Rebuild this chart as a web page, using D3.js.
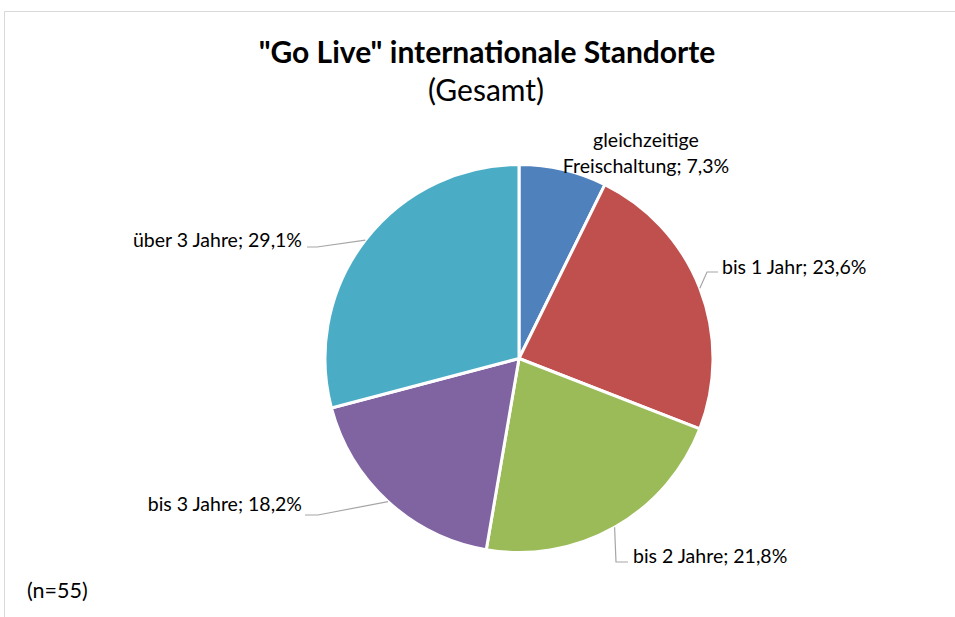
<!DOCTYPE html>
<html>
<head>
<meta charset="utf-8">
<script src="https://cdn.jsdelivr.net/npm/d3@7"></script>
<style>
  body { margin: 0; background: #fff; }
  text { font-family: Lato, "Open Sans", sans-serif; fill: #000; }
</style>
</head>
<body>
<svg id="chart" width="955" height="617"></svg>
<script>
// data
var categories = ["gleichzeitige Freischaltung", "bis 1 Jahr", "bis 2 Jahre", "bis 3 Jahre", "über 3 Jahre"];
var shares = [7.3, 23.6, 21.8, 18.2, 29.1];
var colors = ["#4F81BD", "#C0504D", "#9BBB59", "#8064A2", "#4BACC6"];
var sampleSize = 55;

// label layout: x, y of text, anchor, leader elbow/end points
var labelLayout = [
  { x: 646, y: 147, anchor: "middle", lines: ["gleichzeitige", "Freischaltung; 7,3%"], leader: null },
  { x: 722, y: 274, anchor: "start", leader: [[707, 272], [718, 272]] },
  { x: 633, y: 563, anchor: "start", leader: [[616, 562], [628, 562]] },
  { x: 302, y: 511, anchor: "end", leader: [[318, 515], [305, 515]] },
  { x: 302, y: 247, anchor: "end", leader: [[317, 247], [307, 247]] }
];

var svg = d3.select("#chart");
var cx = 519, cy = 358.5, radius = 194;

// chart frame
svg.append("path")
  .attr("d", "M4.5,617 L4.5,11.5 L955,11.5")
  .attr("fill", "none")
  .attr("stroke", "#d9d9d9")
  .attr("stroke-width", 1);

// title
svg.append("text")
  .attr("x", 487).attr("y", 63)
  .attr("text-anchor", "middle")
  .style("font-size", "30px").style("font-weight", "bold")
  .text("\"Go Live\" internationale Standorte");
svg.append("text")
  .attr("x", 486).attr("y", 101)
  .attr("text-anchor", "middle")
  .style("font-size", "30px")
  .text("(Gesamt)");

var pie = d3.pie().sort(null).value(function(d){ return d; });
var arcs = pie(shares);
var arc = d3.arc().innerRadius(0).outerRadius(radius);

var g = svg.append("g").attr("transform", "translate(" + cx + "," + cy + ")");

g.selectAll("path.slice")
  .data(arcs)
  .enter().append("path")
  .attr("class", "slice")
  .attr("d", arc)
  .attr("fill", function(d, i){ return colors[i]; })
  .attr("stroke", "#fff")
  .attr("stroke-width", 3)
  .attr("stroke-linejoin", "round");

function fmt(v){ return String(v.toFixed(1)).replace(".", ","); }

// leader lines
arcs.forEach(function(d, i){
  var lay = labelLayout[i];
  if (!lay.leader) return;
  var a = (d.startAngle + d.endAngle) / 2;
  var start = [cx + radius * Math.sin(a), cy - radius * Math.cos(a)];
  var pts = [start].concat(lay.leader);
  svg.append("path")
    .attr("d", d3.line()(pts))
    .attr("fill", "none")
    .attr("stroke", "#a6a6a6")
    .attr("stroke-width", 1.2);
});

// labels
arcs.forEach(function(d, i){
  var lay = labelLayout[i];
  var t = svg.append("text")
    .attr("x", lay.x).attr("y", lay.y)
    .attr("text-anchor", lay.anchor)
    .style("font-size", "19.5px");
  if (lay.lines) {
    lay.lines.forEach(function(line, j){
      t.append("tspan").attr("x", lay.x).attr("dy", j === 0 ? 0 : 26).text(line);
    });
  } else {
    t.text(categories[i] + "; " + fmt(shares[i]) + "%");
  }
});

svg.append("text")
  .attr("x", 27).attr("y", 598)
  .style("font-size", "21.5px")
  .text("(n=" + sampleSize + ")");
</script>
</body>
</html>
